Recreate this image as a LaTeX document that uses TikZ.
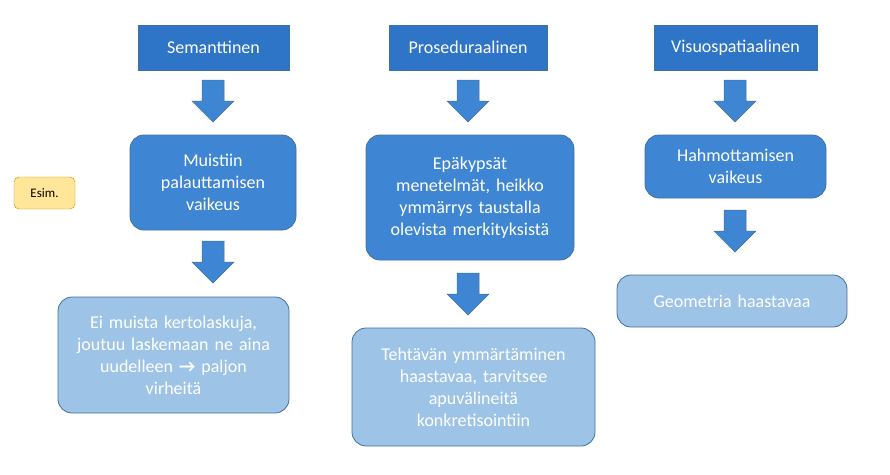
\documentclass[tikz,border=0pt]{standalone}
\usepackage{fontspec}
\setmainfont{Carlito}
\definecolor{topc}{RGB}{46,117,200}
\definecolor{midc}{RGB}{62,134,212}
\definecolor{botc}{RGB}{157,195,230}
\definecolor{bordc}{RGB}{65,113,156}
\tikzset{
 box/.style={draw=bordc,line width=0.8pt,rounded corners=14pt,align=center,text=white,font=\fontsize{18}{22}\selectfont,inner sep=4pt},
 topbox/.style={box,fill=topc,rounded corners=0pt},
 midbox/.style={box,fill=midc},
 botbox/.style={box,fill=botc},
 darr/.pic={\draw[fill=midc,draw=bordc,line width=0.5pt] (-11,-21)--(11,-21)--(11,0)--(21,0)--(0,21)--(-21,0)--(-11,0)--cycle;}
}
\begin{document}
\begin{tikzpicture}[x=1pt,y=-1pt]
\useasboundingbox (0,0) rectangle (890,474);
\node[topbox,minimum width=151pt,minimum height=45pt] (s) at (213.5,47.5) {Semanttinen};
\node[topbox,minimum width=158pt,minimum height=45pt] (p) at (468,47.5) {Proseduraalinen};
\node[topbox,minimum width=163pt,minimum height=45pt] (v) at (735.5,47.5) {Visuospatiaalinen};
\pic at (213,101) {darr};
\pic at (468,101) {darr};
\pic at (735,101) {darr};
\node[midbox,minimum width=166pt,minimum height=95pt,text width=150pt] (m1) at (213,182.5) {Muistiin\\palauttamisen\\vaikeus};
\node[midbox,minimum width=208pt,minimum height=125pt,text width=196pt] (m2) at (470,197.5) {Epäkypsät\\menetelmät, heikko\\ymmärrys taustalla\\olevista merkityksistä};
\node[midbox,minimum width=181pt,minimum height=63pt,text width=165pt] (m3) at (735.5,166.5) {Hahmottamisen\\vaikeus};
\pic at (213,262) {darr};
\pic at (468,294) {darr};
\pic at (735,231) {darr};
\node[botbox,minimum width=231pt,minimum height=116pt,text width=215pt] (c1) at (173.5,355) {Ei muista kertolaskuja,\\joutuu laskemaan ne aina\\uudelleen \textbf{→} paljon\\virheitä};
\node[botbox,minimum width=243pt,minimum height=118pt,text width=225pt] (c2) at (473.5,387) {Tehtävän ymmärtäminen\\haastavaa, tarvitsee\\apuvälineitä\\konkretisointiin};
\node[botbox,minimum width=230pt,minimum height=52pt,text width=215pt] (c3) at (732,301) {Geometria haastavaa};
\node[draw={rgb,255:red,191;green,144;blue,0},fill={rgb,255:red,255;green,230;blue,153},rounded corners=5pt,minimum width=61pt,minimum height=32pt,font=\fontsize{13}{15}\selectfont] (e) at (44.5,193) {Esim.};
\end{tikzpicture}
\end{document}
